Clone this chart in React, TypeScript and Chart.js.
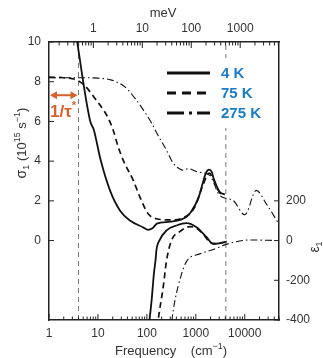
import React, { useEffect, useRef } from 'react';
import { Chart, registerables } from 'chart.js';

Chart.register(...registerables);

// ---------- data ----------
const X_MIN = 1;
const X_MAX = 50000;
const CM_PER_MEV = 8.0655;

const freqSigma4K = [3.5, 3.78, 6.87, 8.27, 11.4, 17.6, 28.1, 45, 83, 105, 130, 160, 300, 650, 800, 1150, 1400, 1600, 1870, 2130, 2260, 2700, 3090, 3900];
const sigma4K = [10.6, 10, 6.06, 5.56, 4.04, 2.53, 1.52, 1.01, 0.67, 0.54, 0.62, 0.85, 0.95, 1.2, 1.45, 2.2, 2.94, 3.4, 3.57, 3.43, 3.2, 2.7, 2.44, 2.32];

const freqSigma75K = [1, 2, 3, 3.9, 5.4, 8.7, 13.9, 16.3, 20.5, 25.3, 32.9, 52.7, 72, 106, 158, 295, 550, 950, 1400, 1870, 2260, 3090, 3900];
const sigma75K = [8.23, 8.2, 8.15, 8.05, 7.8, 7.16, 6.46, 6.15, 5.56, 4.8, 4.04, 3.03, 2.19, 1.35, 1.1, 1.04, 1.15, 1.68, 2.8, 3.4, 3.1, 2.4, 2.3];

const freqSigma275K = [1, 5, 10, 19, 35.6, 57, 91, 126, 160, 252, 344, 470, 551, 698, 1100, 1926, 3090, 5770, 10000, 17200, 27500, 49800];
const sigma275K = [8.2, 8.2, 8.18, 8.08, 7.74, 7.17, 6.46, 5.9, 5.4, 4.55, 3.9, 3.6, 3.54, 3.62, 3.45, 3.28, 2.27, 2.02, 1.3, 2.53, 1.85, 0.84];

const freqEps4K = [100, 111, 125, 139, 150, 157, 175, 252, 403, 647, 1035, 1657, 2260, 4300];
const eps4K = [-480, -414, -300, -167, -100, -45, -5, 51, 76, 88, 67, 17, -17, -5];

const freqEps75K = [165, 170, 215, 252, 317, 470, 754, 1035, 1400, 1926, 2500, 4000];
const eps75K = [-440, -405, -236, -101, 0, 45, 70, 62, 34, -9, -15, -8];

const freqEps275K = [300, 323, 373, 510, 647, 1208, 2260, 4300, 12700, 49000];
const eps275K = [-480, -405, -304, -169, -105, -67, -45, -18, 3, 0];

const markerFreqs = [4, 4100];

const bottomTickLabels = [1, 10, 100, 1000, 10000];
const topTickLabels = [1, 10, 100, 1000];
const leftTicks = [0, 2, 4, 6, 8, 10];
const rightTicks = [-400, -200, 0, 200];
const legendLabels = ['4 K', '75 K', '275 K'];

// ---------- style ----------
const FONT = "'Liberation Sans', Arial, sans-serif";
const AXIS_COLOR = '#222';
const TEXT_COLOR = '#333';
const LEGEND_COLOR = '#1a7cc4';
const ANNOT_COLOR = '#d4622b';
const DASH_75 = [6, 4];
const DASH_275 = [7, 3, 1.5, 3];

const pts = (xs: number[], ys: number[]) => xs.map((x, i) => ({ x, y: ys[i] }));

type Seg = { t: string; size: number; dy?: number; bold?: boolean };

function drawRich(ctx: CanvasRenderingContext2D, segs: Seg[], x: number, y: number, align: 'left' | 'center') {
  let total = 0;
  const widths = segs.map((s) => {
    ctx.font = `${s.bold ? 'bold ' : ''}${s.size}px ${FONT}`;
    const w = ctx.measureText(s.t).width;
    total += w;
    return w;
  });
  let cx = align === 'center' ? x - total / 2 : x;
  ctx.textAlign = 'left';
  ctx.textBaseline = 'alphabetic';
  segs.forEach((s, i) => {
    ctx.font = `${s.bold ? 'bold ' : ''}${s.size}px ${FONT}`;
    ctx.fillText(s.t, cx, y + (s.dy || 0));
    cx += widths[i];
  });
}

const decorPlugin = {
  id: 'decor',
  afterDraw(chart: any) {
    const ctx: CanvasRenderingContext2D = chart.ctx;
    const { left, right, top, bottom } = chart.chartArea;
    const sx = chart.scales.x;
    const st = chart.scales.xTop;
    const sy = chart.scales.y;
    const sy1 = chart.scales.y1;
    ctx.save();

    // inward tick marks
    ctx.strokeStyle = AXIS_COLOR;
    ctx.lineWidth = 1;
    const line = (x1: number, y1: number, x2: number, y2: number) => {
      ctx.beginPath();
      ctx.moveTo(x1, y1);
      ctx.lineTo(x2, y2);
      ctx.stroke();
    };
    [1, 10, 100, 1000, 10000].forEach((d) => {
      for (let m = 1; m < 10; m++) {
        const v = d * m;
        if (v < X_MIN || v > X_MAX) continue;
        const px = sx.getPixelForValue(v);
        line(px, bottom, px, bottom - (m === 1 ? 6 : 3.5));
      }
    });
    [0.1, 1, 10, 100, 1000].forEach((d) => {
      for (let m = 1; m < 10; m++) {
        const v = d * m;
        if (v < X_MIN / CM_PER_MEV || v > X_MAX / CM_PER_MEV) continue;
        const px = st.getPixelForValue(v);
        line(px, top, px, top + (m === 1 ? 6 : 3.5));
      }
    });
    leftTicks.forEach((v) => {
      const py = sy.getPixelForValue(v);
      line(left, py, left + 5, py);
    });
    rightTicks.forEach((v) => {
      const py = sy1.getPixelForValue(v);
      line(right, py, right - 5, py);
    });

    // legend
    const lx1 = 167, lx2 = 210;
    const ly = [73, 93, 113];
    const dashes = [[], [9, 6], [17, 5, 3, 5]];
    ctx.strokeStyle = '#111';
    ctx.lineWidth = 3;
    ly.forEach((y, i) => {
      ctx.setLineDash(dashes[i]);
      line(lx1, y, lx2, y);
    });
    ctx.setLineDash([]);
    ctx.fillStyle = '#fff';
    ctx.fillRect(215, 58, 48, 70);
    ctx.fillStyle = LEGEND_COLOR;
    ctx.font = `bold 15px ${FONT}`;
    ctx.textAlign = 'left';
    ctx.textBaseline = 'middle';
    legendLabels.forEach((t, i) => ctx.fillText(t, 221, ly[i] + 1));

    // 1/tau* annotation (double arrow between x=1 and x=4)
    const ax1 = sx.getPixelForValue(1) + 1;
    const ax2 = sx.getPixelForValue(markerFreqs[0]) - 1;
    const ay = sy.getPixelForValue(7.32);
    ctx.strokeStyle = ANNOT_COLOR;
    ctx.fillStyle = ANNOT_COLOR;
    ctx.lineWidth = 2;
    line(ax1 + 4, ay, ax2 - 4, ay);
    const head = (xTip: number, dir: number) => {
      ctx.beginPath();
      ctx.moveTo(xTip, ay);
      ctx.lineTo(xTip - dir * 7, ay - 4);
      ctx.lineTo(xTip - dir * 7, ay + 4);
      ctx.closePath();
      ctx.fill();
    };
    head(ax1, -1);
    head(ax2, 1);
    ctx.fillStyle = ANNOT_COLOR;
    drawRich(ctx, [
      { t: '1/τ', size: 17, bold: true },
      { t: '*', size: 11, dy: -8, bold: true },
    ], ax1, sy.getPixelForValue(6.2), 'left');

    // axis titles
    ctx.fillStyle = TEXT_COLOR;
    drawRich(ctx, [{ t: 'meV', size: 13 }], (left + right) / 2 - 1, 17, 'center');
    drawRich(ctx, [
      { t: 'Frequency    (cm', size: 13 },
      { t: '−1', size: 9, dy: -6 },
      { t: ')', size: 13 },
    ], 171, 355, 'center');

    ctx.save();
    ctx.translate(26, 143);
    ctx.rotate(-Math.PI / 2);
    drawRich(ctx, [
      { t: 'σ', size: 14 },
      { t: '1', size: 9, dy: 3 },
      { t: ' (10', size: 13 },
      { t: '15', size: 9, dy: -6 },
      { t: ' s', size: 13 },
      { t: '−1', size: 9, dy: -6 },
      { t: ')', size: 13 },
    ], 0, 0, 'center');
    ctx.restore();

    ctx.save();
    ctx.translate(319, 247);
    ctx.rotate(-Math.PI / 2);
    drawRich(ctx, [
      { t: 'ε', size: 14 },
      { t: '1', size: 9, dy: 3 },
    ], 0, 0, 'center');
    ctx.restore();

    ctx.restore();
  },
};

export default function App() {
  const ref = useRef<HTMLCanvasElement | null>(null);

  useEffect(() => {
    if (!ref.current) return;
    const tickFont = { family: FONT, size: 12 };
    const lineDs = (label: string, data: any[], yAxisID: string, dash: number[], width: number) => ({
      label,
      data,
      yAxisID,
      xAxisID: 'x',
      borderColor: '#111',
      borderWidth: width,
      borderDash: dash,
      pointRadius: 0,
      fill: false,
      cubicInterpolationMode: 'monotone' as const,
    });
    const chart = new Chart(ref.current, {
      type: 'line',
      data: {
        datasets: [
          lineDs('σ1 4 K', pts(freqSigma4K, sigma4K), 'y', [], 1.8),
          lineDs('σ1 75 K', pts(freqSigma75K, sigma75K), 'y', DASH_75, 1.7),
          lineDs('σ1 275 K', pts(freqSigma275K, sigma275K), 'y', DASH_275, 1.1),
          lineDs('ε1 4 K', pts(freqEps4K, eps4K), 'y1', [], 1.8),
          lineDs('ε1 75 K', pts(freqEps75K, eps75K), 'y1', DASH_75, 1.7),
          lineDs('ε1 275 K', pts(freqEps275K, eps275K), 'y1', DASH_275, 1.1),
          ...markerFreqs.map((f) => ({
            label: 'marker ' + f,
            data: [{ x: f, y: -4 }, { x: f, y: 10 }],
            yAxisID: 'y',
            xAxisID: 'x',
            borderColor: '#777',
            borderWidth: 1,
            borderDash: [5, 4],
            pointRadius: 0,
            fill: false,
          })),
        ],
      },
      options: {
        animation: false,
        responsive: false,
        devicePixelRatio: 1,
        layout: { padding: 0 },
        plugins: { legend: { display: false }, tooltip: { enabled: false } },
        scales: {
          x: {
            type: 'logarithmic',
            position: 'bottom',
            min: X_MIN,
            max: X_MAX,
            afterBuildTicks: (s: any) => { s.ticks = bottomTickLabels.map((v) => ({ value: v })); },
            afterFit: (s: any) => { s.height = 38; },
            ticks: { font: tickFont, color: TEXT_COLOR, padding: 6, maxRotation: 0, autoSkip: false, callback: (v: any) => String(v) },
            grid: { display: false, drawTicks: false },
            border: { display: true, color: AXIS_COLOR, width: 1.5 },
          },
          xTop: {
            type: 'logarithmic',
            position: 'top',
            min: X_MIN / CM_PER_MEV,
            max: X_MAX / CM_PER_MEV,
            afterBuildTicks: (s: any) => { s.ticks = topTickLabels.map((v) => ({ value: v })); },
            afterFit: (s: any) => { s.height = 42; },
            ticks: { font: tickFont, color: TEXT_COLOR, padding: 6, maxRotation: 0, autoSkip: false, callback: (v: any) => String(v) },
            grid: { display: false, drawTicks: false },
            border: { display: true, color: AXIS_COLOR, width: 1.5 },
          },
          y: {
            type: 'linear',
            position: 'left',
            min: -4,
            max: 10,
            afterBuildTicks: (s: any) => { s.ticks = leftTicks.map((v) => ({ value: v })); },
            afterFit: (s: any) => { s.width = 49; },
            ticks: { font: tickFont, color: TEXT_COLOR, padding: 8, callback: (v: any) => String(v) },
            grid: { display: false, drawTicks: false },
            border: { display: true, color: AXIS_COLOR, width: 1.5 },
          },
          y1: {
            type: 'linear',
            position: 'right',
            min: -400,
            max: 1000,
            afterBuildTicks: (s: any) => { s.ticks = rightTicks.map((v) => ({ value: v })); },
            afterFit: (s: any) => { s.width = 44; },
            ticks: { font: tickFont, color: TEXT_COLOR, padding: 7, callback: (v: any) => (v < 0 ? '-' + Math.abs(v) : String(v)) },
            grid: { display: false, drawTicks: false },
            border: { display: true, color: AXIS_COLOR, width: 1.5 },
          },
        },
      } as any,
      plugins: [decorPlugin],
    });
    return () => chart.destroy();
  }, []);

  return (
    <div style={{ position: 'absolute', left: 0, top: 0, width: 323, height: 358, background: '#fff' }}>
      <canvas ref={ref} width={323} height={358} style={{ display: 'block', width: 323, height: 358 }} />
    </div>
  );
}
